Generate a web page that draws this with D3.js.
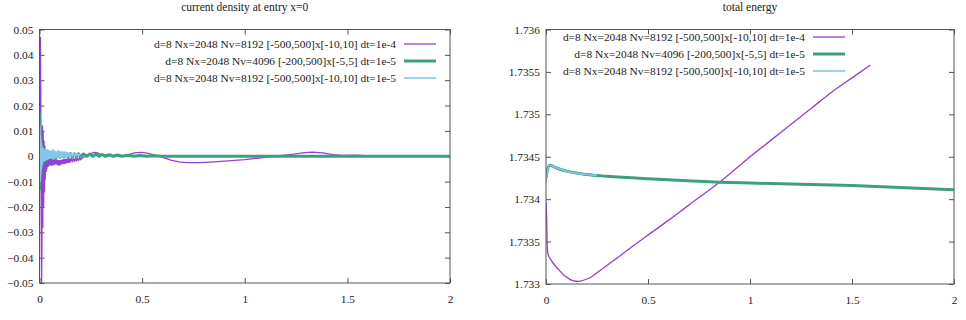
<!DOCTYPE html>
<html>
<head>
<meta charset="utf-8">
<script src="https://cdn.jsdelivr.net/npm/d3@7"></script>
<style>
body { margin: 0; background: #fff; }
svg text { font-family: "Liberation Serif", "DejaVu Serif", serif; fill: #222; }
</style>
</head>
<body>
<div id="chart"></div>
<script>
// tick labels
var xTicks = [0, 0.5, 1, 1.5, 2];
var jTicks = [0.05, 0.04, 0.03, 0.02, 0.01, 0, -0.01, -0.02, -0.03, -0.04, -0.05];
var eTicks = [1.736, 1.7355, 1.735, 1.7345, 1.734, 1.7335, 1.733];

var seriesNames = [
	"d=8 Nx=2048 Nv=8192 [-500,500]x[-10,10] dt=1e-4",
	"d=8 Nx=2048 Nv=4096 [-200,500]x[-5,5] dt=1e-5",
	"d=8 Nx=2048 Nv=8192 [-500,500]x[-10,10] dt=1e-5"
];

// current density at x=0, [t, j]
var jDt4 = [
	[0,0.003],[0.002,0.03],[0.004,0.047],[0.006,0.025],[0.008,-0.02],[0.010,-0.052],[0.012,-0.035],
	[0.014,0.012],[0.016,-0.028],[0.018,0.01],[0.020,-0.02],[0.022,0.006],[0.024,-0.014],[0.026,0.004],
	[0.028,-0.009],[0.030,0.002],[0.032,-0.006],[0.034,0.001],[0.036,-0.005],[0.039,0.0005],[0.042,-0.004],
	[0.045,-0.0005],[0.048,-0.0035],[0.051,-0.001],[0.054,-0.0034],[0.057,-0.0012],[0.060,-0.0036],
	[0.063,-0.0013],[0.066,-0.0033],[0.069,-0.0014],[0.072,-0.0032],[0.075,-0.0012],[0.078,-0.0030],
	[0.081,-0.0013],[0.084,-0.0031],[0.087,-0.0015],[0.090,-0.0034],[0.093,-0.0016],[0.096,-0.0035],
	[0.099,-0.0017],[0.102,-0.0033],[0.105,-0.0015],[0.108,-0.0030],[0.111,-0.0014],[0.114,-0.0028],
	[0.117,-0.0013],[0.120,-0.0029],[0.123,-0.0012],[0.126,-0.0027],[0.129,-0.0011],[0.132,-0.0026],
	[0.135,-0.0010],[0.138,-0.0025],[0.141,-0.0010],[0.144,-0.0024],[0.147,-0.0009],[0.150,-0.0023],
	[0.155,-0.0009],[0.160,-0.0022],[0.165,-0.0008],[0.170,-0.0020],[0.175,-0.0008],[0.180,-0.0019],
	[0.185,-0.0007],[0.190,-0.0017],[0.195,-0.0006],[0.200,-0.0014],[0.21,-0.0006],[0.22,-0.0002],
	[0.235,0.0004],[0.25,0.0010],[0.265,0.0015],[0.28,0.0014],[0.30,0.0007],[0.33,0.0003],[0.37,0.0002],
	[0.41,0.0003],[0.44,0.0008],[0.47,0.0014],[0.50,0.0015],[0.53,0.0011],[0.56,0.0004],[0.60,-0.0004],
	[0.64,-0.0015],[0.68,-0.0022],[0.72,-0.0025],[0.78,-0.0025],[0.85,-0.0022],[0.92,-0.0018],
	[1.00,-0.0013],[1.06,-0.0008],[1.12,-0.0002],[1.18,0.0003],[1.24,0.0008],[1.29,0.0014],[1.33,0.0016],
	[1.38,0.0013],[1.43,0.0006],[1.48,0.0003],[1.54,0.0004],[1.59,0.0002]
];
var jNv4096 = [
	[0,0.017],[0.0015,-0.013],[0.003,0.012],[0.0045,-0.009],[0.006,0.008],[0.0075,-0.006],[0.009,0.005],
	[0.011,-0.004],[0.013,0.004],[0.015,-0.003],[0.018,0.003],[0.021,-0.002],[0.025,0.0025],[0.030,-0.0015],
	[0.035,0.0018],[0.04,-0.0008],[0.05,0.0016],[0.06,-0.0006],[0.07,0.0015],[0.08,-0.0005],[0.09,0.0014],
	[0.10,-0.0004],[0.11,0.0013],[0.12,-0.0003],[0.13,0.0012],[0.14,-0.0002],[0.15,0.0011],[0.16,-0.0002],
	[0.17,0.0010],[0.18,-0.0001],[0.19,0.0010],[0.20,-0.0001],[0.215,0.0009],[0.23,0.0000],[0.245,0.0009],
	[0.26,0.0000],[0.275,0.0008],[0.29,0.0000],[0.305,0.0007],[0.32,0.0000],[0.34,0.0006],[0.36,0.0000],
	[0.38,0.0005],[0.40,0.0000],[0.43,0.0004],[0.46,0.0000],[0.49,0.0003],[0.52,0.0000],[0.56,0.0002],
	[0.60,0.0000],[1.0,0.0000],[1.5,0.0000],[2.0,0.0000]
];
var jDt5 = [
	[0,0.009],[0.001,-0.008],[0.002,0.012],[0.003,-0.01],[0.0045,0.008],[0.006,-0.007],[0.0075,0.006],
	[0.009,-0.005],[0.011,0.004],[0.013,-0.003],[0.015,0.003],[0.018,-0.002],[0.021,0.0028],[0.024,-0.0018],
	[0.027,0.0024],[0.030,-0.0015],[0.033,0.0022],[0.036,-0.0012],[0.039,0.0025],[0.042,-0.0010],
	[0.045,0.0022],[0.048,-0.0008],[0.051,0.0018],[0.054,-0.0004],[0.057,0.0020],[0.060,-0.0006],
	[0.063,0.0024],[0.066,-0.0010],[0.069,0.0023],[0.072,-0.0008],[0.075,0.0019],[0.078,-0.0004],
	[0.081,0.0016],[0.084,-0.0003],[0.087,0.0019],[0.090,-0.0006],[0.093,0.0021],[0.096,-0.0007],
	[0.099,0.0019],[0.102,-0.0005],[0.105,0.0016],[0.108,-0.0002],[0.111,0.0014],[0.114,-0.0001],
	[0.117,0.0016],[0.120,-0.0003],[0.123,0.0017],[0.126,-0.0003],[0.129,0.0015],[0.132,-0.0001],
	[0.135,0.0013],[0.138,0.0000],[0.141,0.0012],[0.144,0.0000],[0.147,0.0013],[0.150,-0.0001],
	[0.155,0.0012],[0.160,0.0001],[0.165,0.0011],[0.170,0.0002],[0.175,0.0010],[0.180,0.0002],
	[0.185,0.0009],[0.190,0.0003],[0.195,0.0008],[0.200,0.0004]
];

// total energy, [t, E]
var eDt4 = [
	[0,1.73397],[0.003,1.73380],[0.006,1.73345],[0.010,1.73335],[0.020,1.73330],[0.040,1.73323],
	[0.065,1.73316],[0.095,1.73309],[0.130,1.73304],[0.160,1.73303],[0.190,1.73305],[0.220,1.73308],
	[0.260,1.73315],[0.300,1.73322],[0.350,1.73331],[0.400,1.73340],[0.490,1.73356],[0.600,1.73375],
	[0.700,1.73393],[0.850,1.73420],[0.980,1.73446],[1.100,1.73469],[1.200,1.73488],[1.310,1.73509],
	[1.400,1.73526],[1.500,1.73543],[1.590,1.73558]
];
var eNv4096 = [
	[0,1.73425],[0.005,1.73432],[0.012,1.73438],[0.020,1.73440],[0.050,1.73437],[0.100,1.73433],
	[0.200,1.73429],[0.300,1.73427],[0.500,1.73424],[0.850,1.73420],[1.000,1.73419],[1.500,1.73416],
	[2.000,1.73411]
];
var eDt5 = [
	[0,1.73420],[0.005,1.73430],[0.012,1.73437],[0.020,1.73440],[0.050,1.73437],[0.100,1.73433],
	[0.200,1.73429],[0.250,1.73428]
];

var colors = ["#9440d8", "#3f9f7c", "#86c6ea"];
var widths = [1.3, 3, 1.6];

var svg = d3.select("#chart").append("svg")
	.attr("width", 966).attr("height", 320);

function panel(opts) {
	var x = d3.scaleLinear().domain([0, 2]).range([opts.left, opts.right]);
	var y = d3.scaleLinear().domain(opts.yDomain).range([opts.bottom, opts.top]);
	var g = svg.append("g");

	g.append("text")
		.attr("x", (opts.left + opts.right) / 2)
		.attr("y", opts.titleY)
		.attr("text-anchor", "middle")
		.style("font-size", "11.5px")
		.text(opts.title);

	var clipId = "clip" + opts.id;
	g.append("clipPath").attr("id", clipId)
		.append("rect")
		.attr("x", opts.left).attr("y", opts.top)
		.attr("width", opts.right - opts.left).attr("height", opts.bottom - opts.top);

	// axes with inward ticks, mirrored
	var ax = [
		g.append("g").attr("transform", "translate(0," + opts.bottom + ")")
			.call(d3.axisBottom(x).tickValues(xTicks).tickSize(-5).tickPadding(12).tickFormat(d3.format("~g"))),
		g.append("g").attr("transform", "translate(0," + opts.top + ")")
			.call(d3.axisTop(x).tickValues(xTicks).tickSize(-5).tickFormat("")),
		g.append("g").attr("transform", "translate(" + opts.left + ",0)")
			.call(d3.axisLeft(y).tickValues(opts.yTicks).tickSize(-5).tickPadding(6).tickFormat(d3.format("~g"))),
		g.append("g").attr("transform", "translate(" + opts.right + ",0)")
			.call(d3.axisRight(y).tickValues(opts.yTicks).tickSize(-5).tickFormat(""))
	];
	ax.forEach(function(a) {
		a.attr("font-family", "Liberation Serif, serif").attr("font-size", 11.4);
		a.select(".domain").remove();
		a.selectAll("line").attr("stroke", "#555");
		a.selectAll("text")
			.style("font-family", "'Liberation Serif', serif")
			.style("font-size", "11.4px")
			.attr("fill", "#222");
	});

	var line = d3.line()
		.x(function(d) { return x(d[0]); })
		.y(function(d) { return y(d[1]); });
	if (opts.smooth) line.curve(d3.curveMonotoneX);

	var plot = g.append("g").attr("clip-path", "url(#" + clipId + ")");
	opts.series.forEach(function(s, i) {
		plot.append("path")
			.datum(s)
			.attr("d", line)
			.attr("fill", "none")
			.attr("stroke", colors[i])
			.attr("stroke-width", widths[i])
			.attr("stroke-linejoin", "round");
	});

	g.append("rect")
		.attr("x", opts.left).attr("y", opts.top)
		.attr("width", opts.right - opts.left).attr("height", opts.bottom - opts.top)
		.attr("fill", "none").attr("stroke", "#555").attr("stroke-width", 1);

	// key
	seriesNames.forEach(function(name, i) {
		var ky = opts.keyY + i * 17;
		g.append("text")
			.attr("x", opts.keyX)
			.attr("y", ky + 4)
			.attr("text-anchor", "end")
			.style("font-size", "11.4px")
			.text(name);
		g.append("line")
			.attr("x1", opts.keyX + 8).attr("x2", opts.keyX + 40)
			.attr("y1", ky).attr("y2", ky)
			.attr("stroke", colors[i])
			.attr("stroke-width", widths[i]);
	});
}

panel({
	id: "j", left: 39.5, right: 450, top: 29.5, bottom: 283,
	yDomain: [-0.05, 0.05], yTicks: jTicks,
	title: "current density at entry x=0", titleY: 10.5,
	keyX: 396, keyY: 44, smooth: false,
	series: [jDt4, jNv4096, jDt5]
});

panel({
	id: "e", left: 546, right: 954, top: 29.5, bottom: 284,
	yDomain: [1.733, 1.736], yTicks: eTicks,
	title: "total energy", titleY: 10.5,
	keyX: 805, keyY: 37, smooth: true,
	series: [eDt4, eNv4096, eDt5]
});
</script>
</body>
</html>
